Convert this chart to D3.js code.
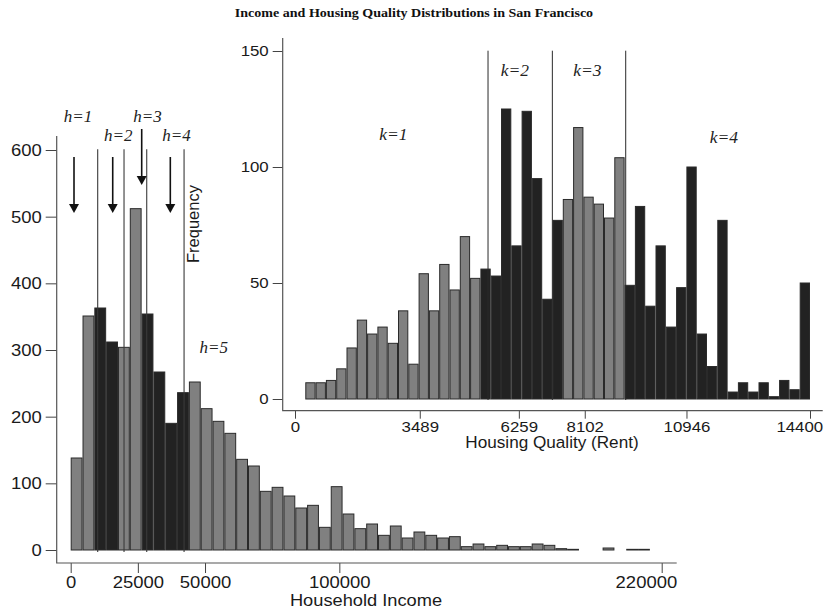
<!DOCTYPE html>
<html><head><meta charset="utf-8">
<script src="https://cdn.jsdelivr.net/npm/d3@7"></script>
<style>body{margin:0;background:#fff}svg{display:block}</style>
</head><body><svg id="c" width="829" height="611"></svg>
<script>
// ---------- data ----------
const title = "Income and Housing Quality Distributions in San Francisco";
const incomeBinWidth = 4400;
const incomeCounts = [138,351,363,312,304,512,354,267,190,236,252,212,193,175,136,126,88,94,81,63,67,34,95,54,32,39,22,36,18,27,22,18,20,5,9,5,7,5,5,9,7,2,1,0,0,3,0,1,1,0];
const incomeSegment = [1,1,2,2,3,3,4,4,4,4,5,5,5,5,5,5,5,5,5,5,5,5,5,5,5,5,5,5,5,5,5,5,5,5,5,5,5,5,5,5,5,5,5,5,5,5,5,5,5,5];
const incomeCuts = [10050, 19850, 28300, 42200];
const incomeArrows = [1230, 15640, 26430, 37080];
const incomeLabels = ["h=1","h=2","h=3","h=4","h=5"];
const incomeLabelX = [2720, 17720, 28590, 39390, 53280];
const incomeXTicks = [0, 25000, 50000, 100000, 220000];
const incomeYTicks = [0, 100, 200, 300, 400, 500, 600];

const rentBinWidth = 288;
const rentCounts = [0,7,7,8,13,22,34,28,31,24,38,15,54,38,58,47,70,52,56,53,125,66,124,95,43,77,86,117,87,84,78,104,49,83,40,66,31,48,100,28,14,77,3,7,3,7,1,8,4,50];
const rentSegment = [1,1,1,1,1,1,1,1,1,1,1,1,1,1,1,1,1,1,2,2,2,2,2,2,2,2,3,3,3,3,3,3,4,4,4,4,4,4,4,4,4,4,4,4,4,4,4,4,4,4];
const rentCuts = [5397, 7196, 9247];
const rentLabels = ["k=1","k=2","k=3","k=4"];
const rentLabelX = [2750, 6150, 8175, 11990];
const rentXTicks = [0, 3489, 6259, 8102, 10946, 14400];
const rentYTicks = [0, 50, 100, 150];

// ---------- drawing ----------
const svg = d3.select("#c");
svg.append("rect").attr("width",829).attr("height",611).attr("fill","#fff");
const SANS = "'Liberation Sans', Arial, Helvetica, sans-serif";
const SERIF = "'Liberation Serif', 'Times New Roman', serif";
const GRAY = "#808080", DARK = "#222222", EDGE = "#2a2a2a";
const S = 1.1;

function stretch(sel, s){
  sel.each(function(){
    const t = d3.select(this);
    const x = +(t.attr("x")||0);
    t.attr("x", x/s).attr("transform", `scale(${s},1)`);
  });
}
// right-align the last tick label so it ends at the axis end
function pinLast(axisG, scale, lastVal, axisEnd){
  axisG.selectAll(".tick").filter(d=>d===lastVal).select("text")
    .attr("text-anchor","end").attr("x",(axisEnd-scale(lastVal))/S);
}

svg.append("text").attr("x",414/1.04).attr("y",17).attr("text-anchor","middle")
  .attr("transform","scale(1.04,1)")
  .attr("font-family",SERIF).attr("font-weight","bold").attr("font-size",13.5)
  .attr("fill","#111").text(title);

// ===== Left: income histogram =====
const ix = d3.scaleLinear().domain([0,220000]).range([70.7,661.7]);
const iy = d3.scaleLinear().domain([0,600]).range([550,150]);
const incomeAxisX = 56.7, incomeAxisY = 563, incomeAxisEnd = ix(220000)+15;

const gI = svg.append("g");
gI.selectAll("rect.bar").data(incomeCounts.map((v,i)=>({v,i,s:incomeSegment[i]})).filter(d=>d.v>0))
  .join("rect").attr("class","bar")
  .attr("x",d=>ix(d.i*incomeBinWidth)+0.5)
  .attr("width",d=>ix((d.i+1)*incomeBinWidth)-ix(d.i*incomeBinWidth)-1)
  .attr("y",d=>iy(d.v))
  .attr("height",d=>iy(0)-iy(d.v))
  .attr("fill",d=>d.s%2===0?DARK:GRAY)
  .attr("stroke",EDGE).attr("stroke-width",1);

gI.selectAll("line.cut").data(incomeCuts).join("line").attr("class","cut")
  .attr("x1",d=>ix(d)).attr("x2",d=>ix(d))
  .attr("y1",149.3).attr("y2",iy(0)+2)
  .attr("stroke","#3a3a3a").attr("stroke-width",1.1);

const arrowTop = [157, 157, 129, 157];
gI.selectAll("g.arrow").data(incomeArrows).join("g").attr("class","arrow")
  .each(function(d,i){
    const g = d3.select(this), x = ix(d), top = arrowTop[i], tip = top + 56;
    g.append("line").attr("x1",x).attr("x2",x).attr("y1",top).attr("y2",tip-7)
      .attr("stroke","#111").attr("stroke-width",1.6);
    g.append("path").attr("d",`M${x-5},${tip-9}L${x+5},${tip-9}L${x},${tip}Z`).attr("fill","#111");
  });

const hBase = [122, 141, 122, 141, 353];
gI.selectAll("text.hl").data(incomeLabels).join("text").attr("class","hl")
  .attr("x",(d,i)=>ix(incomeLabelX[i])).attr("y",(d,i)=>hBase[i])
  .attr("text-anchor","middle").attr("font-family",SERIF).attr("font-style","italic")
  .attr("font-size",17).attr("fill","#222").text(d=>d);

const yAxI = gI.append("g").attr("transform",`translate(${incomeAxisX},0)`)
  .call(d3.axisLeft(iy).tickValues(incomeYTicks).tickSize(11).tickPadding(4).tickFormat(d3.format("d")));
yAxI.select(".domain").remove();
const xAxI = gI.append("g").attr("transform",`translate(0,${incomeAxisY})`)
  .call(d3.axisBottom(ix).tickValues(incomeXTicks).tickSize(10).tickPadding(3).tickFormat(d3.format("d")));
xAxI.select(".domain").remove();
[yAxI,xAxI].forEach(a=>{
  a.selectAll(".tick line").attr("stroke","#444");
  a.selectAll(".tick text").attr("font-family",SANS).attr("font-size",16.8).attr("fill","#1a1a1a");
  stretch(a.selectAll(".tick text"),S);
});
pinLast(xAxI, ix, 220000, incomeAxisEnd);
gI.append("path").attr("d",`M${incomeAxisX},136V${incomeAxisY}H${incomeAxisEnd}`)
  .attr("fill","none").attr("stroke","#555").attr("stroke-width",1.2);
const xl = gI.append("text").attr("x",366).attr("y",606).attr("text-anchor","middle")
  .attr("font-family",SANS).attr("font-size",16.6).attr("fill","#1a1a1a").text("Household Income");
stretch(xl,S);

svg.append("text").attr("transform","translate(198.5,224) rotate(-90)")
  .attr("text-anchor","middle").attr("font-family",SANS).attr("font-size",16.5).attr("fill","#1a1a1a")
  .text("Frequency");

// ===== Inset: rent histogram =====
const rx = d3.scaleLinear().domain([0,14400]).range([295,810]);
const ry = d3.scaleLinear().domain([0,150]).range([399,51]);
const rentAxisX = 282.7, rentAxisY = 410.7, rentAxisEnd = 822.7;
const gR = svg.append("g");
gR.selectAll("rect.bar").data(rentCounts.map((v,i)=>({v,i,s:rentSegment[i]})).filter(d=>d.v>0))
  .join("rect").attr("class","bar")
  .attr("x",d=>rx(d.i*rentBinWidth)+0.5)
  .attr("width",d=>rx((d.i+1)*rentBinWidth)-rx(d.i*rentBinWidth)-1)
  .attr("y",d=>ry(d.v))
  .attr("height",d=>ry(0)-ry(d.v))
  .attr("fill",d=>d.s%2===0?DARK:GRAY)
  .attr("stroke",EDGE).attr("stroke-width",1);

gR.selectAll("line.cut").data(rentCuts).join("line").attr("class","cut")
  .attr("x1",d=>rx(d)).attr("x2",d=>rx(d))
  .attr("y1",50.7).attr("y2",ry(0)+1)
  .attr("stroke","#2a2a2a").attr("stroke-width",1);

const kBase = [140, 76, 76, 142.5];
gR.selectAll("text.kl").data(rentLabels).join("text").attr("class","kl")
  .attr("x",(d,i)=>rx(rentLabelX[i])).attr("y",(d,i)=>kBase[i])
  .attr("text-anchor","middle").attr("font-family",SERIF).attr("font-style","italic")
  .attr("font-size",17.5).attr("fill","#222").text(d=>d);

const yAxR = gR.append("g").attr("transform",`translate(${rentAxisX},0)`)
  .call(d3.axisLeft(ry).tickValues(rentYTicks).tickSize(10).tickPadding(4).tickFormat(d3.format("d")));
yAxR.select(".domain").remove();
const xAxR = gR.append("g").attr("transform",`translate(0,${rentAxisY})`)
  .call(d3.axisBottom(rx).tickValues(rentXTicks).tickSize(8).tickPadding(2).tickFormat(d3.format("d")));
xAxR.select(".domain").remove();
[yAxR,xAxR].forEach(a=>{
  a.selectAll(".tick line").attr("stroke","#444");
  a.selectAll(".tick text").attr("font-family",SANS).attr("font-size",15.3).attr("fill","#1a1a1a");
  stretch(a.selectAll(".tick text"),S);
});
pinLast(xAxR, rx, 14400, rentAxisEnd);
gR.append("path").attr("d",`M${rentAxisX},38V${rentAxisY}H${rentAxisEnd}`)
  .attr("fill","none").attr("stroke","#555").attr("stroke-width",1.2);
const rl = gR.append("text").attr("x",552).attr("y",448).attr("text-anchor","middle")
  .attr("font-family",SANS).attr("font-size",15.6).attr("fill","#1a1a1a").text("Housing Quality (Rent)");
stretch(rl,S);
</script>
</body></html>
